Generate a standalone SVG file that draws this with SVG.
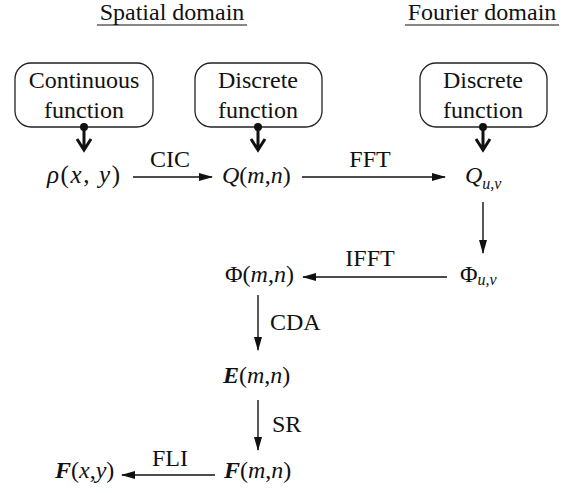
<svg xmlns="http://www.w3.org/2000/svg" width="579" height="493" viewBox="0 0 579 493" font-family="'Times New Roman', 'Liberation Serif', 'DejaVu Serif', serif">
<defs>
<style>
text{font-family:'Times New Roman','Liberation Serif','DejaVu Serif',serif;font-size:24px;fill:#111}
.i{font-style:italic}
.b{font-weight:bold;font-style:italic}
.sub{font-size:16px;font-style:italic}
.box{fill:#fff;stroke:#222;stroke-width:1.3}
.ln{stroke:#111;stroke-width:1.4;fill:none}
.thick{stroke:#111;stroke-width:3;fill:none}
.ul{stroke:#111;stroke-width:1.2}
</style>
<marker id="ah" markerWidth="14" markerHeight="10" refX="13" refY="5" orient="auto" markerUnits="userSpaceOnUse">
<path d="M0,1 L14,5 L0,9 Z" fill="#111"/>
</marker>
</defs>
<rect width="579" height="493" fill="#fff"/>
<g id="headers">
<text x="172" y="20" text-anchor="middle">Spatial domain</text>
<line class="ul" x1="97" y1="25" x2="247" y2="25"/>
<text x="482" y="20" text-anchor="middle">Fourier domain</text>
<line class="ul" x1="405" y1="25" x2="559" y2="25"/>
</g>
<g id="box-continuous">
<rect class="box" x="15" y="63" width="138" height="64" rx="16"/>
<text x="84" y="88" text-anchor="middle">Continuous</text>
<text x="84" y="118" text-anchor="middle">function</text>
</g>
<g id="box-discrete-spatial">
<rect class="box" x="195" y="63" width="127" height="64" rx="16"/>
<text x="258" y="88" text-anchor="middle">Discrete</text>
<text x="258" y="118" text-anchor="middle">function</text>
</g>
<g id="box-discrete-fourier">
<rect class="box" x="420" y="63" width="127" height="64" rx="16"/>
<text x="483" y="88" text-anchor="middle">Discrete</text>
<text x="483" y="118" text-anchor="middle">function</text>
</g>
<g id="rho"><text x="47" y="183" style="font-size:25px" textLength="73" lengthAdjust="spacing"><tspan class="i">ρ</tspan>(<tspan class="i">x</tspan>, <tspan class="i">y</tspan>)</text></g>
<g id="Q"><text x="222" y="183"><tspan class="i">Q</tspan>(<tspan class="i">m</tspan>,<tspan class="i">n</tspan>)</text></g>
<g id="Quv"><text x="465" y="183"><tspan class="i">Q</tspan><tspan class="sub" dy="6">u,v</tspan></text></g>
<g id="Phiuv"><text x="460" y="282">Φ<tspan class="sub" dy="3">u,v</tspan></text></g>
<g id="Phi"><text x="225" y="282">Φ(<tspan class="i">m</tspan>,<tspan class="i">n</tspan>)</text></g>
<g id="E"><text x="223" y="383"><tspan class="b">E</tspan>(<tspan class="i">m</tspan>,<tspan class="i">n</tspan>)</text></g>
<g id="Fmn"><text x="224" y="478"><tspan class="b">F</tspan>(<tspan class="i">m</tspan>,<tspan class="i">n</tspan>)</text></g>
<g id="Fxy"><text x="55" y="478"><tspan class="b">F</tspan>(<tspan class="i">x</tspan>,<tspan class="i">y</tspan>)</text></g>
<g id="connectors">
<g id="pins">
<circle cx="84" cy="127" r="4" fill="#111"/>
<path class="thick" d="M84,127 V150 M77,139 L84,150 L91,139"/>
<circle cx="258" cy="127" r="4" fill="#111"/>
<path class="thick" d="M258,127 V150 M251,139 L258,150 L265,139"/>
<circle cx="483" cy="127" r="4" fill="#111"/>
<path class="thick" d="M483,127 V150 M476,139 L483,150 L490,139"/>
</g>
<line class="ln" x1="133" y1="177" x2="212" y2="177" marker-end="url(#ah)"/>
<text x="170" y="167" text-anchor="middle">CIC</text>
<line class="ln" x1="302" y1="177" x2="445" y2="177" marker-end="url(#ah)"/>
<text x="370" y="167" text-anchor="middle">FFT</text>
<line class="ln" x1="483" y1="202" x2="483" y2="253" marker-end="url(#ah)"/>
<line class="ln" x1="447" y1="277" x2="303" y2="277" marker-end="url(#ah)"/>
<text x="370" y="266" text-anchor="middle">IFFT</text>
<line class="ln" x1="258" y1="295" x2="258" y2="350" marker-end="url(#ah)"/>
<text x="270" y="330">CDA</text>
<line class="ln" x1="258" y1="400" x2="258" y2="450" marker-end="url(#ah)"/>
<text x="272" y="432">SR</text>
<line class="ln" x1="215" y1="475" x2="122" y2="475" marker-end="url(#ah)"/>
<text x="170" y="466" text-anchor="middle">FLI</text>
</g>
</svg>
